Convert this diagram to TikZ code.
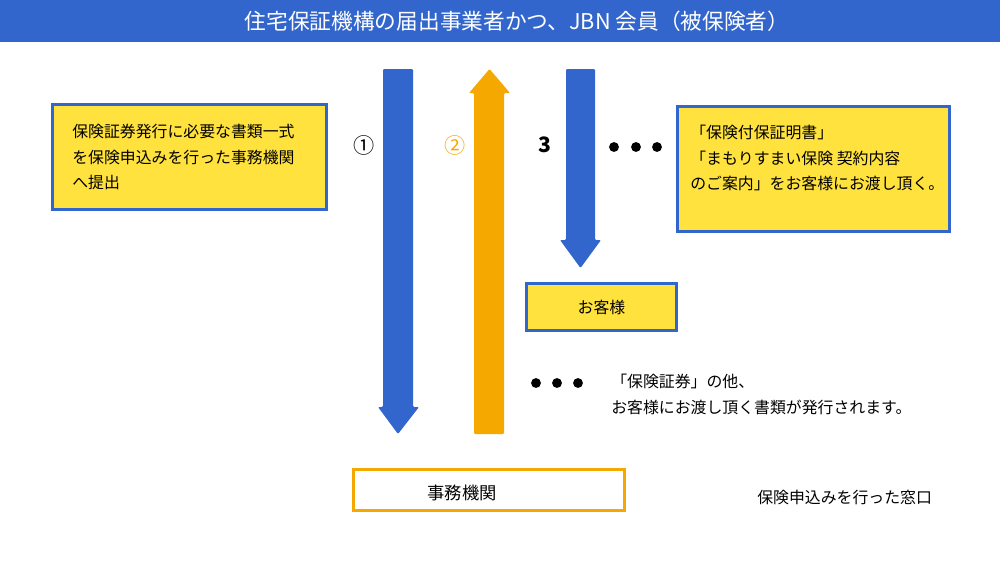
\documentclass[tikz,border=0pt]{standalone}
\usepackage{fontspec}
\setmainfont{Noto Sans CJK JP}
\definecolor{jblue}{HTML}{3366CC}
\definecolor{jorange}{HTML}{F5A900}
\definecolor{jyellow}{HTML}{FFE23D}
\tikzset{
  bodytxt/.style={font=\fontsize{9pt}{14.5pt}\selectfont, inner sep=0pt, align=left},
  ybox/.style={draw=jblue, line width=1.7pt, fill=jyellow, inner sep=0pt},
  obox/.style={draw=jorange, line width=1.7pt, fill=white, inner sep=0pt},
  numlbl/.style={font=\fontsize{12pt}{14pt}\selectfont, inner sep=0pt},
  dot/.style={circle, fill=black, inner sep=0pt, minimum size=5.6pt},
  blockarrow/.style={rounded corners=0.6pt}
}
\begin{document}
\begin{tikzpicture}[x=0.567pt,y=-0.567pt]
\useasboundingbox (0,0) rectangle (1000,563);
% header
\fill[jblue] (0,0) rectangle (1000,42);
\node[font=\fontsize{12.3pt}{14pt}\selectfont, text=white, inner sep=0pt] (title) at (517,21) {住宅保証機構の届出事業者かつ、JBN 会員（被保険者）};
% left box
\node[ybox, minimum width=154.8pt, minimum height=59pt] (leftbox) at (189.5,157) {};
\node[bodytxt, anchor=north west] (lefttxt) at (72,124) {保険証券発行に必要な書類一式\\を保険申込みを行った事務機関\\へ提出};
% right box
\node[ybox, minimum width=153.7pt, minimum height=71.4pt] (rightbox) at (813.5,169) {};
\node[bodytxt, anchor=north west] (righttxt) at (690,125) {「保険付保証明書」\\「まもりすまい保険 契約内容\\のご案内」をお客様にお渡し頂く。};
% customer box
\node[ybox, minimum width=85.6pt, minimum height=27.2pt, font=\fontsize{9pt}{14.5pt}\selectfont] (cust) at (601.5,307) {お客様};
% office box
\node[obox, minimum width=153.1pt, minimum height=22.7pt] (office) at (489,490) {};
\node[font=\fontsize{9.8pt}{14.5pt}\selectfont, inner sep=0pt] (officetxt) at (462,493) {事務機関};
\node[bodytxt, anchor=west] (window) at (757,497) {保険申込みを行った窓口};
% arrows
\fill[jblue, blockarrow] (383,69) -- (413,69) -- (413,407) -- (419,407) -- (398,434) -- (378,407) -- (383,407) -- cycle;
\fill[jorange, blockarrow] (474,434) -- (504,434) -- (504,93) -- (510,93) -- (489.5,69) -- (469,93) -- (474,93) -- cycle;
\fill[jblue, blockarrow] (566,69) -- (595,69) -- (595,240) -- (601,240) -- (580.5,268) -- (560,240) -- (566,240) -- cycle;
% labels
\node[numlbl] (n1) at (364,145) {①};
\node[numlbl, text=jorange] (n2) at (455,145) {②};
\node[numlbl, font=\fontsize{12pt}{14pt}\selectfont\bfseries] (n3) at (545,145) {3};
\node[dot] (d1) at (614,147) {};
\node[dot] (d2) at (636,147) {};
\node[dot] (d3) at (657,147) {};
\node[dot] (e1) at (536,383) {};
\node[dot] (e2) at (557,383) {};
\node[dot] (e3) at (578,383) {};
\node[bodytxt, anchor=north west] (othertxt) at (611,374) {「保険証券」の他、\\お客様にお渡し頂く書類が発行されます。};
\end{tikzpicture}
\end{document}
